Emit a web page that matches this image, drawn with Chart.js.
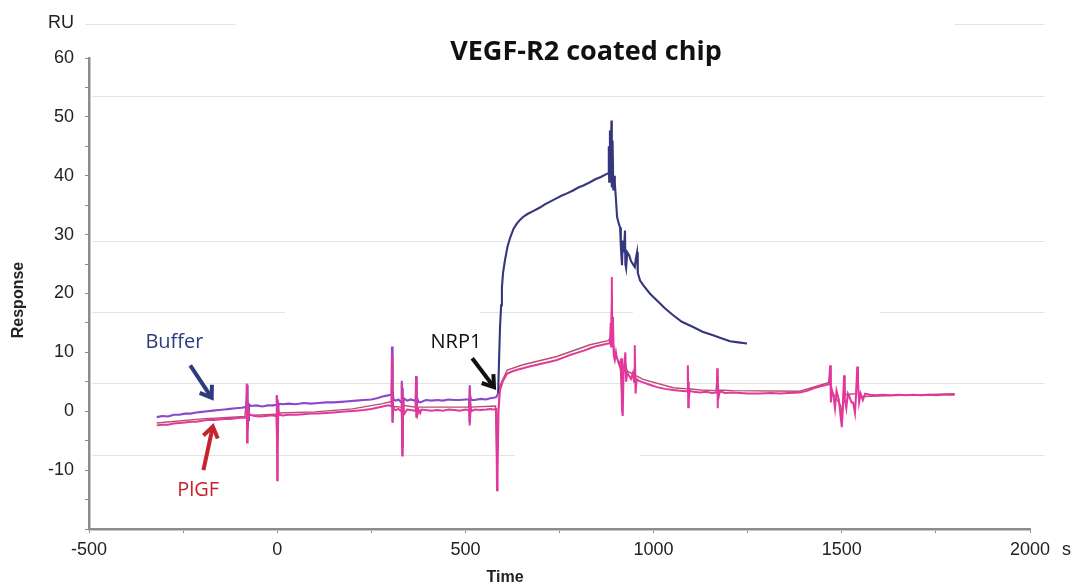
<!DOCTYPE html>
<html>
<head>
<meta charset="utf-8">
<script src="https://cdn.jsdelivr.net/npm/chart.js@4.4.1/dist/chart.umd.min.js"></script>
<style>
  html, body { margin: 0; padding: 0; background: #ffffff; }
  #wrap { width: 1075px; height: 588px; }
</style>
</head>
<body>
<div id="wrap"><canvas id="c" width="1075" height="588"></canvas></div>
<script>
// ---------- DATA (time in s, response in RU) ----------
const bufferTrace = [
  [-320,-1.0],[-305,-0.8],[-290,-0.9],[-275,-0.6],[-260,-0.6],[-245,-0.4],[-230,-0.4],[-215,-0.2],[-200,-0.1],[-185,0.0],
  [-170,0.1],[-155,0.2],[-140,0.3],[-125,0.4],[-110,0.5],[-95,0.6],[-85,0.7],
  [-82,0.8],[-80,4.5],[-79,-3.0],[-78,2.0],[-77,-1.5],[-75,1.2],[-70,0.9],
  [-55,1.0],[-40,0.8],[-25,1.0],[-10,1.0],[-4,1.1],
  [-2,1.0],[-1,2.7],[0,-3.5],[1,2.0],[2,-1.0],[4,1.3],
  [15,1.2],[30,1.3],[50,1.2],[70,1.4],[90,1.3],[110,1.4],[130,1.5],[150,1.5],[170,1.6],[190,1.7],[210,1.8],[230,1.9],
  [250,2.0],[265,2.2],[280,2.5],[295,2.7],[302,2.8],
  [304,2.8],[305,11.0],[306,-1.8],[307,3.5],[309,2.0],
  [315,1.8],[322,2.0],
  [330,1.5],[331,5.2],[332,-6.0],[333,4.0],[334,-2.0],[336,2.2],
  [345,1.8],[355,2.0],[365,1.8],
  [368,1.9],[369,6.0],[370,-1.0],[372,2.2],[375,1.6],[380,1.5],
  [395,1.9],[410,1.8],[425,1.9],[440,1.8],[455,2.0],[470,1.9],[485,1.9],[500,2.0],[508,2.0],
  [510,2.0],[511,4.4],[512,-2.0],[513,2.6],[515,1.9],
  [525,1.9],[540,2.1],[555,2.0],[566,2.2],[575,2.3],[582,2.4],
  [587,3.0],[590,10.0],[592,14.3],[595,18.0],[597,21.0],[600,23.5],[605,25.6],[612,28.0],[619,29.5],[628,31.0],
  [637,31.9],[645,32.5],[653,33.0],[665,33.5],[680,34.0],[698,34.6],[710,35.1],[725,35.6],[743,36.2],[755,36.6],
  [770,37.0],[786,37.5],[800,38.0],[815,38.4],[831,38.9],[845,39.4],[860,39.8],[872,40.2],[879,40.4],
  [881,45.0],[882,39.0],[884,47.7],[886,40.0],[888,49.4],[889,38.0],[891,46.0],[893,37.5],[895,40.0],[897,38.7],
  [900,36.0],[903,33.0],[907,32.0],[911,31.2],[913,28.0],[916,24.8],[918,29.0],[921,27.0],[924,30.7],[925,25.0],
  [927,24.3],[930,27.0],[935,26.5],[940,25.5],[945,25.0],[950,24.5],[953,26.0],[956,27.0],[958,23.5],[964,22.2],
  [975,21.2],[990,20.0],[1009,18.8],[1030,17.5],[1052,16.3],[1075,15.2],[1105,14.3],[1130,13.5],[1158,12.9],
  [1180,12.4],[1203,11.9],[1225,11.7],[1248,11.5]
];

const plgfTrace = [
  [-320,-2.4],[-305,-2.3],[-290,-2.3],[-275,-2.1],[-260,-2.0],[-245,-1.9],[-230,-1.8],[-215,-1.8],[-200,-1.6],[-185,-1.5],
  [-170,-1.5],[-155,-1.4],[-140,-1.3],[-125,-1.3],[-110,-1.2],[-95,-1.1],[-85,-1.1],
  [-82,-1.0],[-81,4.7],[-80,-5.3],[-79,2.0],[-78,-3.0],[-76,0.0],[-73,-0.6],
  [-60,-0.8],[-45,-0.9],[-30,-0.8],[-15,-0.7],[-4,-0.8],
  [-2,-0.8],[-1,2.7],[0,-11.7],[1,1.0],[2,-6.0],[3,0.5],[5,-0.6],
  [15,-0.7],[30,-0.6],[50,-0.6],[70,-0.5],[90,-0.4],[110,-0.4],[130,-0.3],[150,-0.2],[170,-0.1],[190,0.0],
  [210,0.1],[230,0.2],[250,0.4],[265,0.6],[280,0.8],[295,1.0],[302,0.9],
  [304,0.8],[305,9.5],[306,-2.0],[307,2.0],[309,0.4],
  [315,0.2],[322,0.4],
  [330,0.0],[331,4.8],[332,-7.5],[333,3.0],[334,-4.0],[335,1.5],[337,-0.5],
  [345,0.3],[355,0.2],[365,0.1],
  [368,0.2],[369,5.8],[370,-1.2],[371,2.0],[373,-0.5],[376,0.2],[380,-0.3],[383,0.3],
  [395,0.2],[410,0.1],[425,0.2],[440,0.1],[455,0.3],[470,0.2],[485,0.1],[500,0.3],[508,0.2],
  [510,0.2],[511,4.0],[512,-2.4],[513,1.5],[515,0.0],
  [525,0.3],[540,0.2],[555,0.3],[566,0.4],[575,0.3],[582,0.4],
  [584,-13.4],[585,-4.0],[586,-10.0],[588,0.0],[592,3.6],[600,5.2],[611,6.4],[625,6.8],[640,7.1],[653,7.3],
  [670,7.6],[690,7.9],[710,8.2],[725,8.4],[743,8.7],[760,9.1],[780,9.6],[800,10.0],[815,10.3],[831,10.7],
  [850,11.1],[865,11.3],[879,11.5],
  [884,11.6],[886,15.0],[887,11.0],[889,22.8],[890,12.0],[892,16.0],[894,9.5],[897,8.7],[900,10.0],[902,9.2],
  [907,8.2],[911,7.5],[914,9.0],[916,0.2],[918,-0.8],[920,6.0],[922,8.0],[925,10.0],[927,5.0],[930,6.5],
  [935,6.0],[940,5.5],[945,6.5],[948,5.0],[950,11.2],[952,3.0],[955,5.5],[960,5.2],[972,4.9],[990,4.5],
  [1009,4.1],[1030,3.8],[1052,3.6],[1070,3.5],[1085,3.4],
  [1090,3.4],[1091,7.8],[1092,0.7],[1093,5.0],[1094,2.0],[1096,3.5],
  [1105,3.3],[1123,3.2],[1140,3.3],[1155,3.1],[1165,3.2],
  [1168,3.2],[1169,7.3],[1170,0.5],[1171,5.0],[1173,2.5],[1176,3.4],
  [1190,3.1],[1211,3.2],[1230,3.1],[1250,3.0],[1283,3.0],[1310,3.1],[1336,3.0],[1360,3.1],[1389,3.2],[1410,3.5],
  [1425,3.9],[1442,4.2],[1455,4.4],[1466,4.6],
  [1468,4.6],[1469,7.8],[1471,1.5],[1473,3.8],[1478,2.5],[1482,0.5],[1486,3.5],[1492,2.0],[1497,-1.0],[1500,-2.7],
  [1503,0.5],[1506,6.1],[1508,2.0],[1512,0.5],[1516,3.0],[1520,2.5],[1526,1.5],[1530,1.5],[1535,-0.3],[1538,3.0],
  [1541,7.6],[1543,5.0],[1546,1.5],[1550,3.0],[1556,1.9],[1562,3.0],
  [1575,2.8],[1590,2.7],[1610,2.8],[1630,2.7],[1650,2.8],[1670,2.7],[1690,2.8],[1710,2.7],[1730,2.8],[1750,2.7],
  [1770,2.8],[1800,2.8]
];

const plgfTrace2 = [
  [-320,-2.0],[-200,-1.3],[-86,-0.9],[-80,3.0],[-79,-4.0],[-77,-0.7],[-3,-0.5],[0,-8.0],[3,-0.3],[100,-0.1],
  [200,0.4],[280,1.3],[300,1.6],[303,1.5],[305,8.0],[307,-1.0],[310,0.8],[330,0.7],[332,-6.0],[334,1.0],
  [367,0.7],[369,5.0],[371,0.7],[400,0.7],[509,0.7],[511,3.0],[513,-1.5],[515,0.7],[580,0.9],[584,-10.0],
  [588,1.0],[592,4.4],[611,7.0],[653,7.9],[743,9.3],[831,11.3],[879,12.0],[886,12.5],[889,20.0],[892,12.0],
  [897,9.5],[911,8.2],[916,2.0],[920,7.5],[925,8.0],[930,6.8],[972,5.4],[1052,4.0],[1089,3.8],[1091,6.5],
  [1093,2.5],[1096,3.8],[1123,3.6],[1166,3.5],[1169,6.0],[1171,2.5],[1174,3.6],[1211,3.5],[1389,3.4],[1466,4.9],
  [1469,7.0],[1472,3.5],[1497,1.0],[1500,-1.5],[1503,2.0],[1506,5.0],[1509,2.8],[1538,3.0],[1541,6.5],[1545,2.5],
  [1556,2.5],[1800,3.0]
];

const xTickLabels = [-500, 0, 500, 1000, 1500, 2000];
const yTickLabels = [-10, 0, 10, 20, 30, 40, 50, 60];
const titleText = 'VEGF-R2 coated chip';
const annotationLabels = ['Buffer', 'PlGF', 'NRP1'];

// ---------- presentation ----------
const toXY = arr => arr.map(p => ({x: p[0], y: p[1]}));
const NAVY = '#34367e', PURPLE = '#8a48cc', MAGENTA = '#e2389c', RUST = '#b3506a';

const notes = [
  {text: annotationLabels[0], color: '#2d3d7c', tx: -273, ty: 11.7, ax0: -231, ay0: 7.8, ax1: -174, ay1: 2.3},
  {text: annotationLabels[1], color: '#c4252c', tx: -210, ty: -13.4, ax0: -196, ay0: -10.0, ax1: -171, ay1: -2.6},
  {text: annotationLabels[2], color: '#111111', tx: 475, ty: 11.7, ax0: 518, ay0: 9.0, ax1: 576, ay1: 4.1}
];
// faint background rules: [value, fromX, toX]
const rules = [
  [65.7, -510, -111], [65.7, 1800, 2039],
  [53.5, -491, 2039],
  [29.0, -491, 2039],
  [16.8, -491, 21], [16.8, 539, 945], [16.8, 1601, 2039],
  [4.75, -491, 2039],
  [-7.5, -491, 632], [-7.5, 964, 2039]
];

const rulesPlugin = {
  id: 'rules',
  beforeDatasetsDraw(chart) {
    const {ctx, scales: {x, y}} = chart;
    ctx.save();
    ctx.strokeStyle = '#e3e3e3';
    ctx.lineWidth = 1.2;
    rules.forEach(r => {
      const py = Math.round(y.getPixelForValue(r[0])) + 0.5;
      ctx.beginPath();
      ctx.moveTo(x.getPixelForValue(r[1]), py);
      ctx.lineTo(x.getPixelForValue(r[2]), py);
      ctx.stroke();
    });
    ctx.restore();
  }
};

function arrow(ctx, x0, y0, x1, y1, color) {
  const ang = Math.atan2(y1 - y0, x1 - x0);
  const h = 13;
  ctx.strokeStyle = color;
  ctx.lineWidth = 4;
  ctx.lineCap = 'butt';
  ctx.lineJoin = 'miter';
  ctx.beginPath();
  ctx.moveTo(x0, y0);
  ctx.lineTo(x1 - Math.cos(ang) * 2, y1 - Math.sin(ang) * 2);
  ctx.stroke();
  ctx.beginPath();
  ctx.moveTo(x1 - h * Math.cos(ang - 0.6), y1 - h * Math.sin(ang - 0.6));
  ctx.lineTo(x1, y1);
  ctx.lineTo(x1 - h * Math.cos(ang + 0.6), y1 - h * Math.sin(ang + 0.6));
  ctx.stroke();
}

const textPlugin = {
  id: 'texts',
  afterDraw(chart) {
    const {ctx, scales: {x, y}} = chart;
    ctx.save();
    // title
    ctx.fillStyle = '#111';
    ctx.textAlign = 'center';
    ctx.textBaseline = 'middle';
    ctx.font = 'bold 27px "Open Sans"';
    ctx.fillText(titleText, 586, 52);
    // unit labels
    ctx.font = '18px "Liberation Sans"';
    ctx.fillStyle = '#222';
    ctx.textAlign = 'right';
    ctx.fillText('RU', 74, 23);
    ctx.textAlign = 'left';
    ctx.fillText('s', 1062, 550);
    // axis titles
    ctx.font = 'bold 16px "Liberation Sans"';
    ctx.textAlign = 'center';
    ctx.fillText('Time', 505, 578);
    ctx.save();
    ctx.translate(19, 300);
    ctx.rotate(-Math.PI / 2);
    ctx.fillText('Response', 0, 0);
    ctx.restore();
    // annotations
    notes.forEach(n => {
      ctx.font = '20px "Open Sans"';
      ctx.fillStyle = n.color;
      ctx.textAlign = 'center';
      ctx.fillText(n.text, x.getPixelForValue(n.tx), y.getPixelForValue(n.ty));
      arrow(ctx, x.getPixelForValue(n.ax0), y.getPixelForValue(n.ay0),
                 x.getPixelForValue(n.ax1), y.getPixelForValue(n.ay1), n.color);
    });
    ctx.restore();
  }
};

const axisColor = '#8c8c8c';
new Chart(document.getElementById('c'), {
  type: 'line',
  data: {
    datasets: [
      {label: 'PlGF', data: toXY(plgfTrace), borderColor: MAGENTA, borderWidth: 2},
      {label: 'Buffer', data: toXY(bufferTrace), borderColor: PURPLE, borderWidth: 2.1,
        segment: {borderColor: c => (c.p0.parsed.x >= 586 ? NAVY : PURPLE)}},
      {label: 'PlGF (ref)', data: toXY(plgfTrace2), borderColor: RUST, borderWidth: 1.4}
    ]
  },
  options: {
    responsive: false,
    animation: false,
    devicePixelRatio: 1,
    parsing: true,
    elements: {point: {radius: 0}, line: {tension: 0}},
    layout: {padding: {top: 58, right: 45, left: 0, bottom: 0}},
    plugins: {legend: {display: false}, tooltip: {enabled: false}, title: {display: false}},
    scales: {
      x: {
        type: 'linear', min: -500, max: 2000,
        afterFit: s => { s.height = 59; },
        border: {color: axisColor, width: 2.5},
        grid: {display: true, drawOnChartArea: false, drawTicks: true, tickLength: 4, color: axisColor},
        ticks: {stepSize: 250, padding: 6, color: '#222', font: {family: 'Liberation Sans', size: 18},
          maxRotation: 0, autoSkip: false,
          callback: v => (xTickLabels.includes(v) ? String(v) : '')}
      },
      y: {
        type: 'linear', min: -20, max: 60,
        afterFit: s => { s.width = 89; },
        border: {color: axisColor, width: 2.5},
        grid: {display: true, drawOnChartArea: false, drawTicks: true, tickLength: 4, color: axisColor},
        ticks: {stepSize: 5, padding: 11, color: '#222', font: {family: 'Liberation Sans', size: 18},
          autoSkip: false,
          callback: v => (yTickLabels.includes(v) ? String(v) : '')}
      }
    }
  },
  plugins: [rulesPlugin, textPlugin]
});
</script>
</body>
</html>
